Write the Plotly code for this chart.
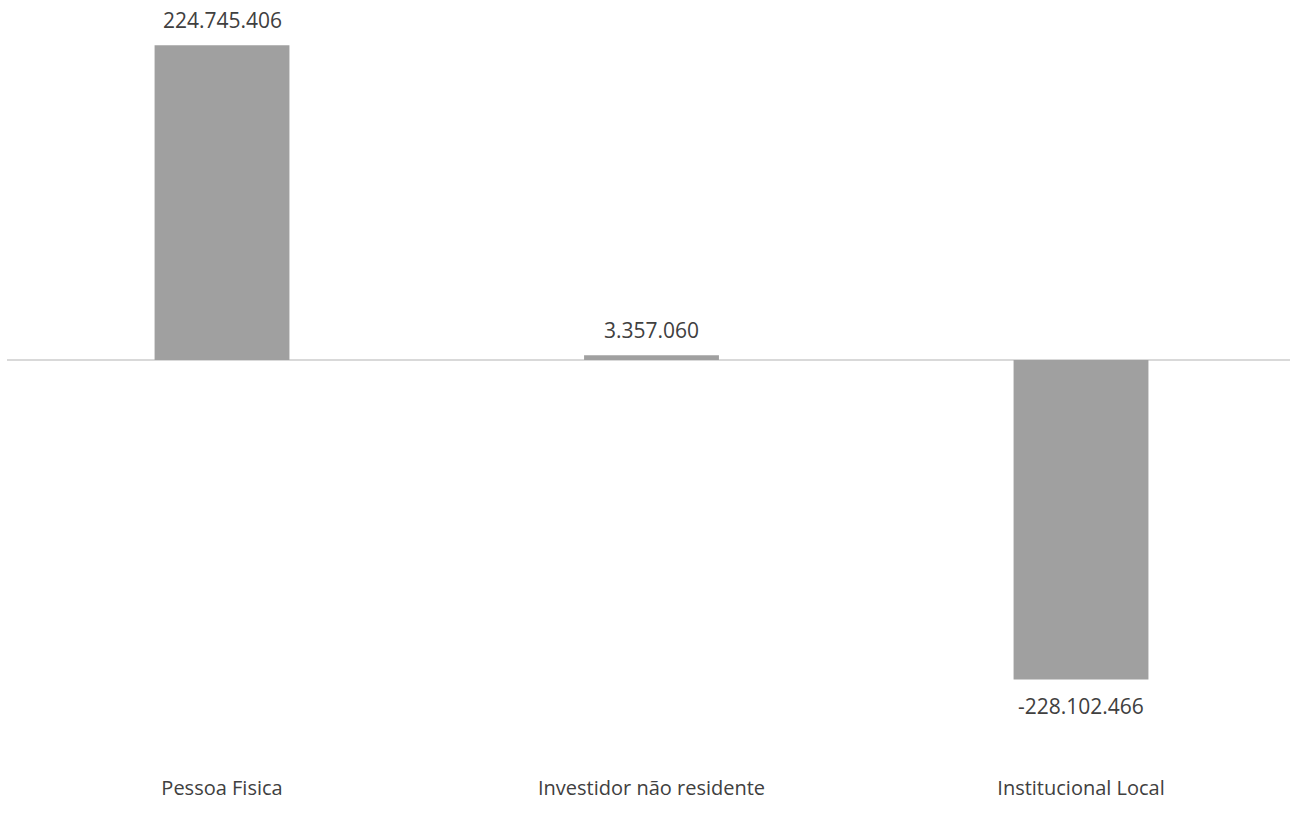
import plotly.graph_objects as go

categories = ["Pessoa Fisica", "Investidor não residente", "Institucional Local"]
values = [224745406, 3357060, -228102466]
labels = ["224.745.406", "3.357.060", "-228.102.466"]

xs = list(range(len(categories)))

fig = go.Figure()
fig.add_trace(go.Bar(
    x=xs,
    y=values,
    width=0.314,
    marker=dict(color="#a0a0a0", line=dict(width=0)),
    hoverinfo="skip",
))

for x, v, t in zip(xs, values, labels):
    fig.add_annotation(
        x=x, y=v, text=t, showarrow=False,
        xanchor="center", yanchor="middle",
        yshift=25 if v >= 0 else -27,
        font=dict(family="Open Sans", size=21, color="#404040"),
    )

fig.update_layout(
    width=1290, height=825,
    margin=dict(l=7, r=0, t=0, b=51),
    paper_bgcolor="white", plot_bgcolor="white",
    showlegend=False,
    xaxis=dict(
        range=[-0.5006, 2.4866],
        tickmode="array",
        tickvals=xs,
        ticktext=categories,
        showgrid=False, zeroline=False, showline=False, ticks="",
        tickfont=dict(family="Open Sans", size=20, color="#404040"),
    ),
    yaxis=dict(
        range=[-295.6e6, 257.0e6],
        showgrid=False, showticklabels=False, ticks="",
        zeroline=True, zerolinecolor="#d9d9d9", zerolinewidth=2,
        showline=False,
    ),
)

fig.write_html(
    "out.html",
    config={"displayModeBar": False},
    post_script="document.body.style.margin='0';",
)
